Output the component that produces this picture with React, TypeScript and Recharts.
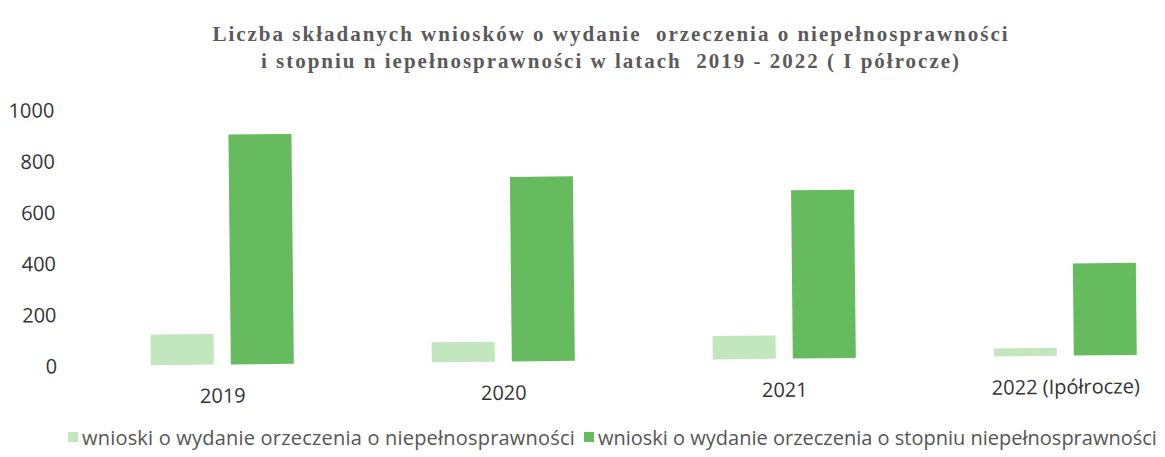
import { Bar, BarChart, Legend, XAxis, YAxis } from "recharts";

const years = ["2019", "2020", "2021", "2022 (Ipółrocze)"];
const disabilityRequests = [120, 78, 91, 31];
const degreeRequests = [898, 721, 657, 360];
const yTicks = [0, 200, 400, 600, 800, 1000];

const seriesNames = {
  light: "wnioski o wydanie orzeczenia o niepełnosprawności",
  dark: "wnioski o wydanie orzeczenia o stopniu niepełnosprawności",
};

const LIGHT = "#c2e6bd";
const DARK = "#66bb5e";

const chartData = years.map((year, i) => ({
  year,
  light: disabilityRequests[i],
  dark: degreeRequests[i],
}));

// the scanned original is tilted a little, so the plot surface is turned to follow it
const tiltCss = `.tilted svg.recharts-surface { transform: rotate(-0.6deg); transform-origin: 82px 366px; }`;

function LegendRow() {
  const item = (color: string, label: string, spacing: number) => (
    <span style={{ display: "inline-flex", alignItems: "center", marginRight: 9 }}>
      <span style={{ width: 10, height: 10, background: color, marginRight: 4, display: "inline-block" }} />
      <span style={{ letterSpacing: spacing }}>{label}</span>
    </span>
  );
  return (
    <div
      style={{
        paddingLeft: 68,
        paddingTop: 15,
        fontFamily: "'Open Sans', sans-serif",
        fontSize: 20,
        lineHeight: "27px",
        color: "#555",
        whiteSpace: "nowrap",
        textAlign: "left",
      }}
    >
      {item(LIGHT, seriesNames.light, 0.2)}
      {item(DARK, seriesNames.dark, 0)}
    </div>
  );
}

export default function App() {
  return (
    <div
      className="tilted"
      style={{
        position: "fixed",
        left: 0,
        top: 0,
        width: 1165,
        height: 457,
        overflow: "hidden",
        background: "#fff",
      }}
    >
      <style>{tiltCss}</style>
      <div
        style={{
          position: "absolute",
          left: 0,
          top: 21,
          width: 1222,
          textAlign: "center",
          fontFamily: "'Liberation Serif', serif",
          fontWeight: 700,
          fontSize: 21,
          letterSpacing: 2,
          lineHeight: "27px",
          color: "#5a5a5a",
        }}
      >
        <div>Liczba składanych wniosków o wydanie&nbsp; orzeczenia o niepełnosprawności</div>
        <div>i stopniu n iepełnosprawności w latach&nbsp; 2019 - 2022 ( I półrocze)</div>
      </div>
      <div style={{ position: "absolute", left: 0, top: 0 }}>
        <BarChart
          width={1210}
          height={457}
          data={chartData}
          margin={{ top: 110, right: 4, left: 0, bottom: 0 }}
          barCategoryGap="24.5%"
          barGap={17}
        >
          <XAxis
            dataKey="year"
            axisLine={false}
            tickLine={false}
            height={40}
            tickMargin={18}
            tick={{ fill: "#333", fontSize: 20, fontFamily: "'Open Sans', sans-serif" }}
          />
          <YAxis
            width={82}
            domain={[0, 1000]}
            ticks={yTicks}
            axisLine={false}
            tickLine={false}
            tickSize={0}
            tickMargin={25}
            tick={{ fill: "#333", fontSize: 20, fontFamily: "'Open Sans', sans-serif" }}
          />
          <Legend verticalAlign="bottom" height={51} content={() => <LegendRow />} />
          <Bar dataKey="light" name={seriesNames.light} fill={LIGHT} isAnimationActive={false} />
          <Bar dataKey="dark" name={seriesNames.dark} fill={DARK} isAnimationActive={false} />
        </BarChart>
      </div>
    </div>
  );
}
